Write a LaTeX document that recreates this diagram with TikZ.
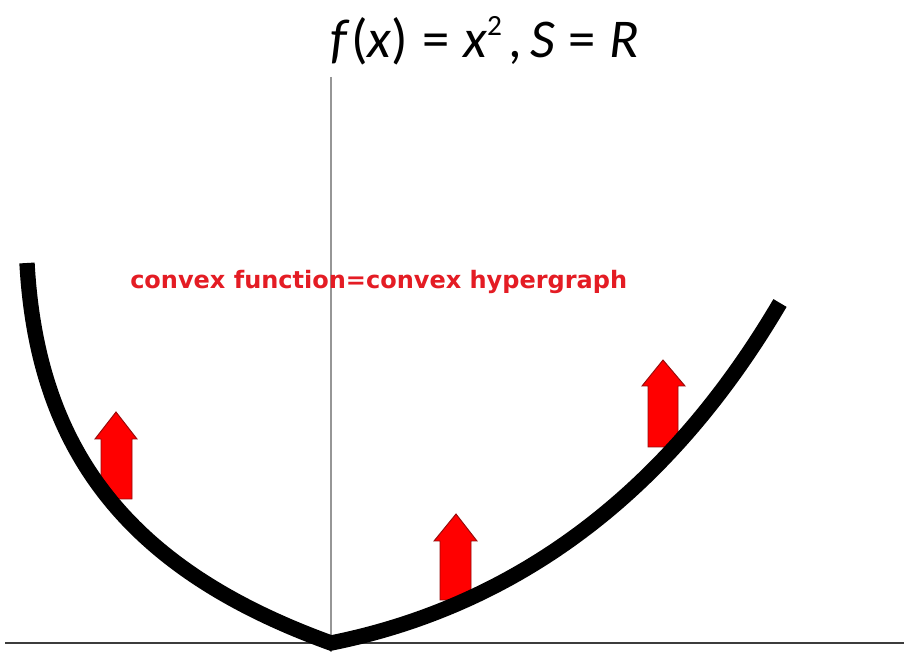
\documentclass[tikz,border=0pt]{standalone}
\usepackage{fontspec}
\setmainfont{Carlito}
\newfontfamily\labelfont{DejaVu Sans}
\definecolor{textred}{RGB}{228,28,36}
\definecolor{arrowred}{RGB}{255,0,0}
\definecolor{arrowedge}{RGB}{150,10,10}
\definecolor{axisgray}{RGB}{150,150,150}
\definecolor{axisdark}{RGB}{60,60,60}
\tikzset{
  blockarrow/.style={fill=arrowred, draw=arrowedge, line width=0.7pt, line join=miter},
  curvestyle/.style={line width=11.5pt, line join=miter, black},
}
\begin{document}
\begin{tikzpicture}[x=0.75pt,y=-0.75pt]
\useasboundingbox (0,0) rectangle (904,655);
\fill[white] (0,0) rectangle (904,655);
% axes
\coordinate (hl) at (5,643);
\coordinate (hr) at (904,643);
\coordinate (vt) at (331,77);
\coordinate (vb) at (331,652);
\draw[axisdark, line width=1.1pt] (hl) -- (hr);
\draw[axisgray, line width=1.3pt] (vt) -- (vb);
% title
\node[anchor=base west, inner sep=0pt, font=\fontsize{41}{41}\selectfont] (title) at (330,58)
  {\textit{f}\kern0.03em(\textit{x})\kern0.25em=\kern0.25em\textit{x}\raisebox{0.42em}{\fontsize{22}{22}\selectfont 2}\kern0.12em,\kern0.15em\textit{S}\kern0.25em=\kern0.25em\textit{R}};
% label
\node[anchor=base west, inner sep=0pt, text=textred, font=\labelfont\bfseries\fontsize{18}{18}\selectfont] (lbl) at (130,289)
  {convex function=convex hypergraph};
% arrows
\path[blockarrow] (116,412) -- (137,439) -- (132,439) -- (132,499) -- (101,499) -- (101,439) -- (95,439) -- cycle;
\path[blockarrow] (456,514) -- (477,541) -- (471,541) -- (471,600) -- (440,600) -- (440,541) -- (434,541) -- cycle;
\path[blockarrow] (663,360) -- (685,386) -- (678,386) -- (678,447) -- (648,447) -- (648,386) -- (642,386) -- cycle;
% curve
\coordinate (cstart) at (27,263);
\coordinate (cvert) at (331,643);
\coordinate (cend) at (780,303);
\draw[curvestyle] (cstart) .. controls (37.5,457) and (135,572) .. (cvert)
  .. controls (520,605) and (670,490) .. (cend);
\end{tikzpicture}
\end{document}
